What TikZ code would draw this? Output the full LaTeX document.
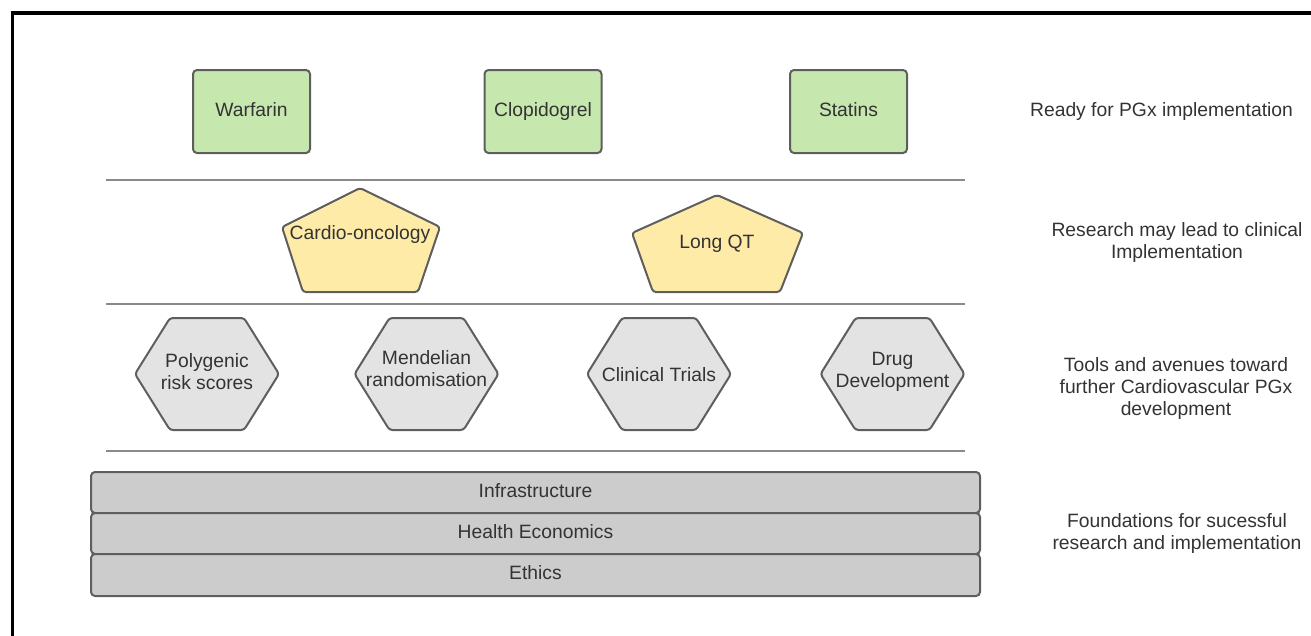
\documentclass[tikz,border=0pt]{standalone}
\usepackage{fontspec}
\setmainfont{Liberation Sans}
\definecolor{boxline}{HTML}{5E5E5E}
\definecolor{ruleline}{HTML}{8A8A8A}
\definecolor{txt}{HTML}{333333}
\definecolor{greenfill}{HTML}{C6E7AD}
\definecolor{yellowfill}{HTML}{FFEBA8}
\definecolor{hexfill}{HTML}{E3E3E3}
\definecolor{barfill}{HTML}{CCCCCC}
\begin{document}
\begin{tikzpicture}[x=1pt,y=-1pt,
  every node/.style={font=\fontsize{19.3}{22}\selectfont, text=txt, align=center},
  drugbox/.style={draw=boxline, fill=greenfill, line width=2pt, rounded corners=4pt,
    minimum width=117pt, minimum height=83pt, inner sep=0pt,
    text height=14pt, text depth=5pt},
  penta/.style={draw=boxline, fill=yellowfill, line width=2pt, rounded corners=3pt},
  hexa/.style={draw=boxline, fill=hexfill, line width=2pt, rounded corners=3pt},
  bar/.style={draw=boxline, fill=barfill, line width=2pt, rounded corners=4pt,
    minimum width=889pt, inner sep=0pt, text height=14pt, text depth=5pt},
  sep/.style={draw=ruleline, line width=1.5pt},
  sidelabel/.style={inner sep=0pt}]
\useasboundingbox (0,0) rectangle (1311,635);
% frame around the figure
\draw[line width=3.5pt, black] (12.5,13) rectangle (1330,660);

% tier 1: drugs ready for implementation
\node[drugbox] (warf) at (251.5,111.5) {Warfarin};
\node[drugbox] (clop) at (543,111.5) {Clopidogrel};
\node[drugbox] (stat) at (848.5,111.5) {Statins};

% separators between tiers
\coordinate (s1a) at (106,180); \coordinate (s1b) at (965,180);
\coordinate (s2a) at (106,304); \coordinate (s2b) at (965,304);
\coordinate (s3a) at (106,451); \coordinate (s3b) at (965,451);
\draw[sep] (s1a) -- (s1b);
\draw[sep] (s2a) -- (s2b);
\draw[sep] (s3a) -- (s3b);

% tier 2: research areas (pentagons)
\draw[penta] (360,188) -- (440,227) -- (418,292) -- (303,292) -- (282,227) -- cycle;
\node (cardio) at (360,235) {Cardio-oncology};
\draw[penta] (717,195) -- (803,233) -- (780,292) -- (653,292) -- (632,233) -- cycle;
\node (lqt) at (717,244) {Long QT};

% tier 3: tools (hexagons)
\foreach \cx/\ty/\nm/\lab in {207/372/prs/{Polygenic\\risk scores},
                          426.5/369/mr/{Mendelian\\randomisation},
                          659/375/ct/{Clinical Trials},
                          892.5/372/dd/{Drug\\Development}}{
  \draw[hexa] (\cx-72,374) -- (\cx-37,318) -- (\cx+37,318) -- (\cx+72,374)
              -- (\cx+37,430) -- (\cx-37,430) -- cycle;
  \node (\nm) at (\cx,\ty) {\lab};
}

% tier 4: foundations (stacked bars)
\node[bar, minimum height=41pt] (infra) at (535.5,492.5) {Infrastructure};
\node[bar, minimum height=41pt] (econ) at (535.5,533.5) {Health Economics};
\node[bar, minimum height=42pt] (ethics) at (535.5,575) {Ethics};

% tier descriptions
\node[sidelabel] (l1) at (1161.5,112) {Ready for PGx implementation};
\node[sidelabel] (l2) at (1177,243) {Research may lead to clinical\\Implementation};
\node[sidelabel] (l3) at (1176,389) {Tools and avenues toward\\further Cardiovascular PGx\\development};
\node[sidelabel] (l4) at (1177,534) {Foundations for sucessful\\research and implementation};
\end{tikzpicture}
\end{document}
